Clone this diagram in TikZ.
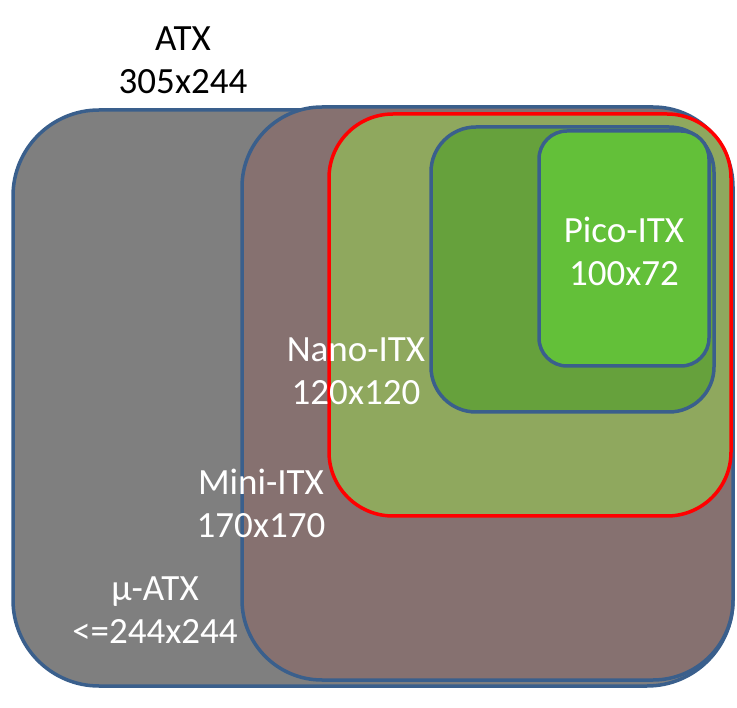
\documentclass[tikz,border=0pt]{standalone}
\usepackage{fontspec}
\setmainfont{Carlito}
\definecolor{atxgray}{RGB}{127,127,127}
\definecolor{uatxbrown}{RGB}{134,113,112}
\definecolor{miniolive}{RGB}{143,168,94}
\definecolor{nanogreen}{RGB}{102,161,60}
\definecolor{picogreen}{RGB}{99,192,57}
\definecolor{frameblue}{RGB}{58,95,140}
\tikzset{
  board/.style={draw=frameblue, line width=3.5pt},
  lbl/.style={white, align=center, font=\fontsize{37}{43}\selectfont, inner sep=0pt}
}
\begin{document}
\begin{tikzpicture}[x=1pt,y=-1pt]
\useasboundingbox (0,0) rectangle (737,708);
%	\coordinate (    ) at (left/top) / (right/bottom)
\coordinate (atxA)  at (13,110);  \coordinate (atxB)  at (733,686);
\coordinate (uatxA) at (242,107); \coordinate (uatxB) at (733,680);
\coordinate (miniA) at (329,114); \coordinate (miniB) at (731,516);
\coordinate (nanoA) at (431,127); \coordinate (nanoB) at (714,412);
\coordinate (picoA) at (539,131); \coordinate (picoB) at (709,366);

\filldraw[board, fill=atxgray,   rounded corners=86pt] (atxA)  rectangle (atxB);
\filldraw[board, fill=uatxbrown, rounded corners=80pt] (uatxA) rectangle (uatxB);
\filldraw[draw=red, line width=3.5pt, fill=miniolive, rounded corners=64pt] (miniA) rectangle (miniB);
\filldraw[board, fill=nanogreen, rounded corners=45pt] (nanoA) rectangle (nanoB);
\filldraw[board, fill=picogreen, rounded corners=28pt] (picoA) rectangle (picoB);

\node[lbl, black] (atx)  at (183,60)  {ATX\\305x244};
\node[lbl]        (pico) at (624,251) {Pico-ITX\\100x72};
\node[lbl]        (nano) at (356,371) {Nano-ITX\\120x120};
\node[lbl]        (mini) at (261,503) {Mini-ITX\\170x170};
\node[lbl]        (uatx) at (155,610) {µ-ATX\\<=244x244};

\end{tikzpicture}
\end{document}
